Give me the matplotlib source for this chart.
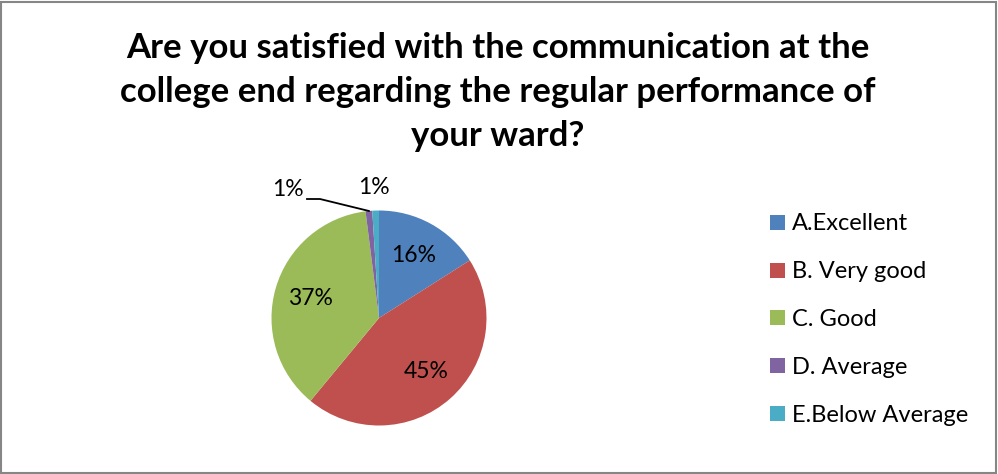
import matplotlib
matplotlib.use("Agg")
import matplotlib.pyplot as plt
from matplotlib.patches import Rectangle
import numpy as np

categories = ["A.Excellent", "B. Very good", "C. Good", "D. Average", "E.Below Average"]
percents = [16, 45, 37, 1, 1]
colors = ["#4F81BD", "#C0504D", "#9BBB59", "#8064A2", "#4BACC6"]

title = ("Are you satisfied with the communication at the\n"
         "college end regarding the regular performance of\n"
         "your ward?")

W, H = 998, 474
fig = plt.figure(figsize=(W / 100, H / 100), dpi=100)
plt.rcParams["font.family"] = ["Lato", "DejaVu Sans"]

# outer chart border
fig.patches.append(Rectangle((1 / W, 1 / H), 1 - 3 / W, 1 - 3 / H,
                             transform=fig.transFigure, fill=False,
                             edgecolor="#868686", linewidth=1.5))

fig.text(498 / W, 1 - 92 / H, title, ha="center", va="center",
         fontsize=25, fontweight="bold", linespacing=1.45, color="black")

# pie axes: centre and radius in pixels
cx, cy, R = 379, 318, 107.5
ax = fig.add_axes([(cx - R) / W, (H - cy - R) / H, 2 * R / W, 2 * R / H])
ax.axis("off")

wedges, _ = ax.pie(percents, colors=colors, startangle=90, counterclock=False,
                   radius=1, wedgeprops=dict(linewidth=0))
ax.set_xlim(-1, 1)
ax.set_ylim(-1, 1)
ax.set_aspect("equal")

fs = 16.5
for i, (v, w) in enumerate(zip(percents, wedges)):
    mid = np.deg2rad((w.theta1 + w.theta2) / 2)
    label = f"{v}%"
    if v >= 5:
        d = 0.66
        ax.text(d * np.cos(mid), d * np.sin(mid), label, ha="center", va="center",
                fontsize=fs)
    elif i == 3:
        # leader line to label on the left
        x0, y0 = np.cos(mid), np.sin(mid)
        xk, yk = (320 - cx) / R, (cy - 199) / R
        xe = (307 - cx) / R
        ax.plot([x0, xk, xe], [y0, yk, yk], color="black", linewidth=1.3,
                clip_on=False)
        ax.text((288 - cx) / R, (cy - 190) / R, label, ha="center", va="center",
                fontsize=fs)
    else:
        ax.text((374 - cx) / R, (cy - 187) / R, label, ha="center", va="center",
                fontsize=fs)

fig.legend(wedges, categories, loc="upper left",
           bbox_to_anchor=(761 / W, 1 - 204 / H), frameon=False,
           fontsize=17, handlelength=0.6, handleheight=0.6,
           handletextpad=0.3, labelspacing=1.14, borderaxespad=0)

fig.savefig("out.png", dpi=100)
